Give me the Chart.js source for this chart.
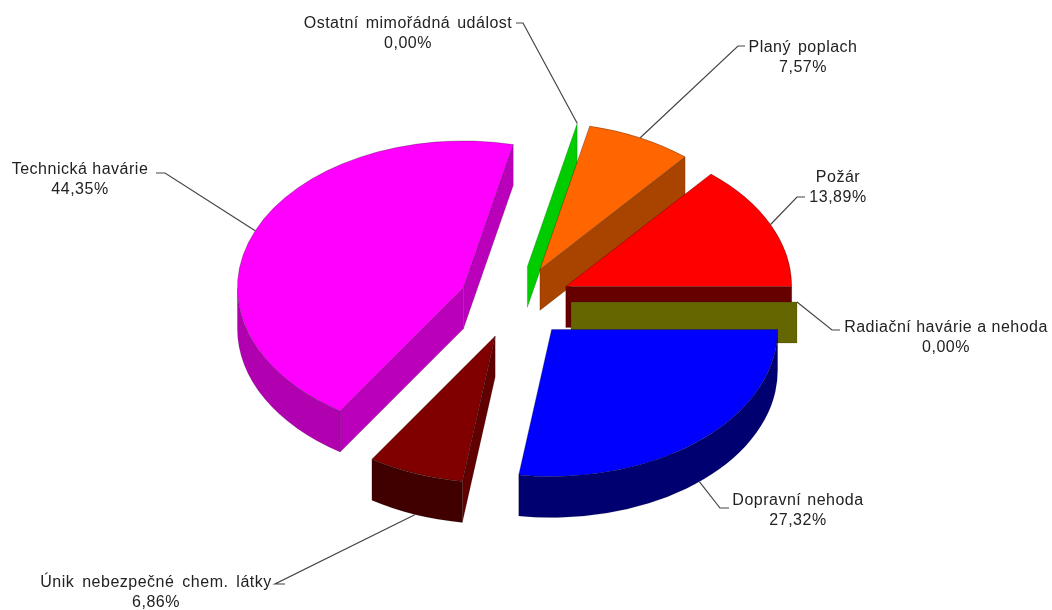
<!DOCTYPE html>
<html>
<head>
<meta charset="utf-8">
<style>
  html, body { margin: 0; background: #fff; }
  canvas { display: block; }
</style>
<script src="https://cdn.jsdelivr.net/npm/chart.js@4"></script>
</head>
<body>
<canvas id="myChart" width="1052" height="610"></canvas>
<script>
// data, clockwise from east
const categories = ['Dopravní nehoda', 'Únik nebezpečné chem. látky', 'Technická havárie', 'Ostatní mimořádná událost', 'Planý poplach', 'Požár', 'Radiační havárie a nehoda'];
const percents = [27.32, 6.86, 44.35, 0, 7.57, 13.89, 0];

// colours
const topColors = ['#0000ff', '#800000', '#ff00ff', '#00ff00', '#ff6600', '#ff0000', '#808000'];
const sideColors = ['#000090', '#600000', '#bb00bb', '#00cc00', '#a84400', '#660000', '#666600'];
const rimColors = ['#000070', '#400000', '#b000b0', '#00a000', '#a84400', '#800000', '#666600'];

// label placement: text centre x, first baseline y, line y, knee x, text end x
const labelSpots = [
  { x: 798, y: 505, wordGap: 1, lineY: 508, kneeX: 720, endX: 729 },
  { x: 156, y: 587, wordGap: 3, lineY: 584, kneeX: 275, endX: 285 },
  { x: 80, y: 174, wordGap: 0, lineY: 173, kneeX: 165, endX: 156 },
  { x: 408, y: 28, wordGap: 2, lineY: 23, kneeX: 523, endX: 516 },
  { x: 803, y: 52, wordGap: 2, lineY: 46, kneeX: 738, endX: 745 },
  { x: 838, y: 182, wordGap: 0, lineY: 197, kneeX: 797, endX: 805 },
  { x: 946, y: 332, wordGap: 0, lineY: 330, kneeX: 832, endX: 840 }
];

const tilt = 0.65;
const depth = 41;
const explode = 56;

const formatPercent = v => v.toFixed(2).replace('.', ',') + '%';

// centre of an exploded slice on screen
const sliceCentre = (arc) => {
  const mid = (arc.startAngle + arc.endAngle) / 2;
  return { x: arc.x + Math.cos(mid) * explode, y: arc.y + Math.sin(mid) * explode * tilt };
};

const drawSideWall = (ctx, arc, angle, color) => {
  const c = sliceCentre(arc);
  const ex = c.x + Math.cos(angle) * arc.outerRadius;
  const ey = c.y + Math.sin(angle) * arc.outerRadius * tilt;
  ctx.beginPath();
  ctx.moveTo(c.x, c.y);
  ctx.lineTo(ex, ey);
  ctx.lineTo(ex, ey + depth);
  ctx.lineTo(c.x, c.y + depth);
  ctx.closePath();
  ctx.fillStyle = color;
  ctx.fill();
  ctx.strokeStyle = 'rgba(0,0,0,0.25)';
  ctx.lineWidth = 0.6;
  ctx.stroke();
};

const drawRim = (ctx, arc, color) => {
  // only the part of the rim facing the viewer
  const from = Math.max(arc.startAngle, 0);
  const to = Math.min(arc.endAngle, Math.PI);
  if (to <= from) return;
  const c = sliceCentre(arc);
  const r = arc.outerRadius;
  ctx.beginPath();
  ctx.ellipse(c.x, c.y, r, r * tilt, 0, from, to);
  ctx.ellipse(c.x, c.y + depth, r, r * tilt, 0, to, from, true);
  ctx.closePath();
  ctx.fillStyle = color;
  ctx.fill();
  ctx.strokeStyle = 'rgba(0,0,0,0.25)';
  ctx.lineWidth = 0.6;
  ctx.stroke();
};

const pie3d = {
  id: 'pie3d',
  beforeDatasetsDraw(chart) {
    const ctx = chart.ctx;
    const arcs = chart.getDatasetMeta(0).data;
    // walls first, back to front
    const order = arcs.map((arc, i) => i).sort((a, b) => sliceCentre(arcs[a]).y - sliceCentre(arcs[b]).y);
    order.forEach(i => {
      const arc = arcs[i];
      if (Math.cos(arc.startAngle) < 0 && arc.endAngle > arc.startAngle) drawSideWall(ctx, arc, arc.startAngle, sideColors[i]);
      if (Math.cos(arc.endAngle) > 0) drawSideWall(ctx, arc, arc.endAngle, sideColors[i]);
      drawRim(ctx, arc, rimColors[i]);
    });
    // tops: the library's own arcs, moved out and squashed
    arcs.forEach(arc => {
      const c = sliceCentre(arc);
      ctx.save();
      ctx.translate(c.x, c.y);
      ctx.scale(1, tilt);
      ctx.translate(-arc.x, -arc.y);
      arc.draw(ctx);
      ctx.restore();
    });
    return false;
  },
  afterDraw(chart) {
    const ctx = chart.ctx;
    const arcs = chart.getDatasetMeta(0).data;
    ctx.font = '16px "Liberation Sans", Arial, sans-serif';
    ctx.letterSpacing = '0.5px';
    ctx.textAlign = 'center';
    ctx.textBaseline = 'alphabetic';
    arcs.forEach((arc, i) => {
      const spot = labelSpots[i];
      const c = sliceCentre(arc);
      const mid = (arc.startAngle + arc.endAngle) / 2;
      const sx = c.x + Math.cos(mid) * arc.outerRadius;
      let sy = c.y + Math.sin(mid) * arc.outerRadius * tilt;
      if (Math.sin(mid) > 0.01) sy += depth;
      ctx.beginPath();
      ctx.moveTo(sx, sy);
      ctx.lineTo(spot.kneeX, spot.lineY);
      ctx.lineTo(spot.endX, spot.lineY);
      ctx.strokeStyle = '#444';
      ctx.lineWidth = 1.2;
      ctx.stroke();
      ctx.fillStyle = '#222';
      ctx.wordSpacing = spot.wordGap + 'px';
      ctx.fillText(categories[i], spot.x, spot.y);
      ctx.wordSpacing = '0px';
      ctx.fillText(formatPercent(percents[i]), spot.x, spot.y + 20);
    });
  }
};

const renderChart = () => {
  const ctx = document.getElementById('myChart').getContext('2d');
  new Chart(ctx, {
    type: 'pie',
    data: {
      labels: categories,
      datasets: [{
        data: percents,
        backgroundColor: topColors,
        borderColor: 'rgba(0,0,0,0.4)',
        borderWidth: 0.8
      }]
    },
    options: {
      responsive: false,
      animation: false,
      rotation: 90,
      radius: 226,
      layout: { padding: { right: 22, bottom: 6 } },
      plugins: { legend: { display: false }, tooltip: { enabled: false } }
    },
    plugins: [pie3d]
  });
};

renderChart();
</script>
</body>
</html>
